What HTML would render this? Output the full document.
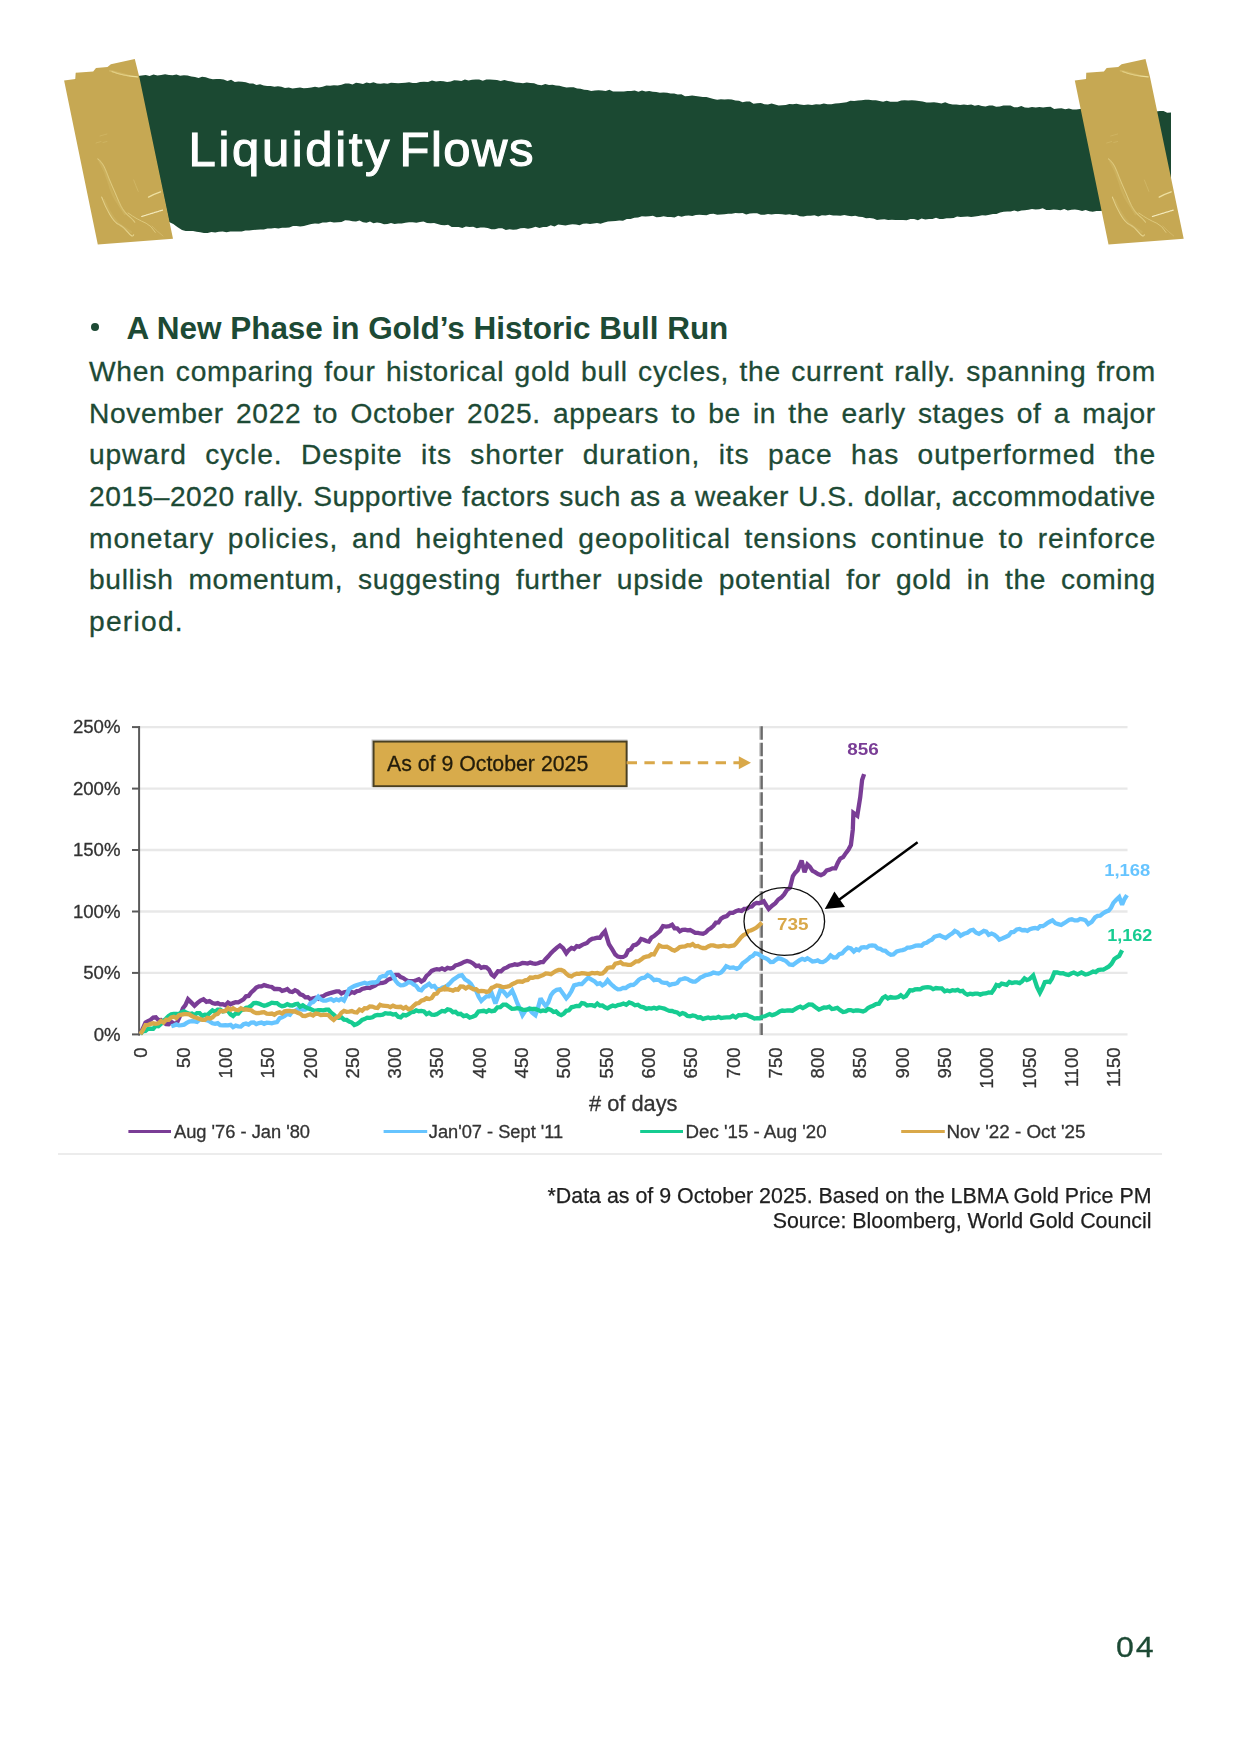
<!DOCTYPE html>
<html><head><meta charset="utf-8"><title>Liquidity Flows</title>
<style>
html,body{margin:0;padding:0;background:#fff;}
body{width:1241px;height:1754px;position:relative;overflow:hidden;font-family:"Liberation Sans",sans-serif;}
#bg{position:absolute;left:0;top:0;}
.title{position:absolute;left:187px;top:119px;font-size:49px;font-weight:normal;-webkit-text-stroke:1.1px #fff;color:#fff;white-space:nowrap;letter-spacing:1.78px;line-height:60px;}
.h{position:absolute;left:126.6px;top:307.8px;font-size:31.5px;font-weight:bold;color:#1d4a35;white-space:nowrap;line-height:40px;letter-spacing:-0.04px;}
.bul{position:absolute;left:90.9px;top:322.9px;width:8.4px;height:8.4px;border-radius:50%;background:#1d4a35;}
.p{position:absolute;left:89px;width:1063px;font-size:28.2px;color:#1d4a35;-webkit-text-stroke:0.3px #1d4a35;line-height:42px;text-align:justify;text-align-last:justify;white-space:nowrap;overflow:visible;}
.p.last{text-align-last:left;}
.fn{position:absolute;right:89.5px;width:700px;text-align:right;font-size:21.4px;color:#1e1e1e;line-height:25px;white-space:nowrap;filter:blur(0.45px);-webkit-text-stroke:0.25px #1e1e1e;}
.pg{position:absolute;left:1115.6px;top:1629.3px;font-size:30px;color:#1d4a35;line-height:36px;letter-spacing:1.8px;transform:scaleX(1.07);transform-origin:0 50%;-webkit-text-stroke:0.3px #1d4a35;}
svg text{font-family:"Liberation Sans",sans-serif;}
.ct text{stroke:#333;stroke-width:0.3px;}
</style></head><body>
<svg id="bg" width="1241" height="1754" viewBox="0 0 1241 1754">
<defs>
<filter id="soft" filterUnits="userSpaceOnUse" x="0" y="680" width="1241" height="500"><feGaussianBlur stdDeviation="0.55"/></filter>
<filter id="soft2" filterUnits="userSpaceOnUse" x="0" y="680" width="1241" height="500"><feGaussianBlur stdDeviation="0.55"/></filter>
</defs>
<!-- banner -->
<polygon points="138.0,76.0 141.9,75.5 145.8,75.1 149.6,75.9 153.5,74.6 157.4,75.4 161.2,75.0 165.1,74.2 169.0,75.0 172.7,75.3 176.4,74.6 180.1,75.7 183.9,75.3 187.6,75.6 191.3,76.6 195.0,77.0 198.6,77.9 202.1,76.8 205.7,77.3 209.3,78.4 212.9,79.3 216.4,78.9 220.0,79.0 223.7,79.4 227.4,81.1 231.1,79.8 234.8,82.0 238.4,81.4 242.1,81.7 245.8,82.2 249.5,83.5 253.1,83.6 256.6,85.0 260.1,84.2 263.7,85.5 267.2,86.0 270.8,85.9 274.4,86.7 277.9,86.2 281.4,86.7 285.0,88.0 288.8,87.4 292.5,88.4 296.2,87.9 300.0,87.6 303.8,88.2 307.5,88.0 311.3,87.5 315.0,86.8 318.8,87.4 322.6,86.8 326.4,85.4 330.1,85.7 333.9,85.2 337.7,85.5 341.5,84.8 345.2,83.5 349.0,83.5 352.5,84.4 356.0,82.7 359.5,83.2 363.0,83.9 366.5,82.6 370.0,83.2 373.5,82.3 377.0,83.5 380.5,83.7 384.0,83.3 387.5,83.8 391.0,82.7 394.5,83.0 398.1,83.2 401.8,82.9 405.4,82.7 409.1,82.3 412.7,83.0 416.4,83.0 420.0,82.0 424.0,81.7 428.0,81.9 432.0,80.5 436.0,81.6 440.0,81.0 443.6,81.2 447.1,81.9 450.7,81.5 454.2,80.3 457.8,80.5 461.4,81.0 464.9,79.6 468.5,80.4 472.1,79.8 475.6,79.6 479.2,79.4 482.8,80.8 486.3,79.4 489.9,79.6 493.4,79.8 497.0,80.0 500.7,81.1 504.4,79.9 508.1,81.0 511.9,81.5 515.6,82.6 519.3,82.8 523.0,83.2 526.7,82.4 530.4,83.0 534.1,83.3 537.9,84.7 541.6,85.2 545.3,83.9 549.0,85.0 552.5,84.8 556.0,85.4 559.5,85.8 563.0,86.8 566.5,87.5 570.1,87.3 573.6,87.2 577.1,88.5 580.6,88.8 584.1,89.7 587.6,90.0 591.2,91.0 594.9,90.6 598.5,90.3 602.1,90.6 605.7,90.9 609.4,89.7 613.0,91.5 616.6,91.4 620.2,91.6 623.9,91.6 627.5,90.9 631.1,91.0 634.7,90.5 638.4,91.7 642.0,90.6 645.6,91.6 649.2,91.1 652.8,91.7 656.3,92.0 659.9,92.7 663.5,92.5 667.1,92.7 670.6,93.4 674.2,93.6 677.8,94.5 681.4,94.2 685.0,96.3 688.5,96.1 692.1,95.5 695.7,96.1 699.3,96.6 702.8,97.0 706.4,96.9 710.0,98.0 713.6,99.1 717.2,99.8 720.9,99.2 724.5,99.6 728.1,99.2 731.8,99.6 735.4,100.5 739.0,100.8 742.6,102.3 746.2,101.4 749.9,101.5 753.5,103.8 757.1,103.3 760.8,103.0 764.4,104.2 768.0,104.5 771.6,103.6 775.1,104.6 778.7,105.5 782.2,105.2 785.8,104.9 789.3,104.0 792.9,104.2 796.4,103.8 800.0,104.5 804.0,105.0 808.0,104.6 812.0,105.1 816.0,104.2 820.0,104.5 823.8,103.6 827.6,104.3 831.4,104.3 835.2,103.6 839.0,103.2 842.8,102.8 846.6,102.2 850.4,100.8 854.2,101.0 858.0,100.6 861.6,100.3 865.2,99.7 868.8,99.7 872.4,100.3 875.9,100.2 879.5,101.1 883.1,101.7 886.7,100.7 890.3,101.7 893.9,101.8 897.5,101.8 901.1,100.6 904.6,100.3 908.2,100.4 911.8,100.3 915.4,100.4 919.0,101.0 922.7,101.6 926.5,102.4 930.2,102.6 934.0,102.2 937.7,102.8 941.4,103.4 945.2,102.3 948.9,103.8 952.6,104.6 956.4,104.6 960.1,104.9 963.9,104.6 967.6,105.0 971.2,104.5 974.8,105.8 978.3,105.0 981.9,106.0 985.5,106.5 989.1,105.5 992.6,105.6 996.2,106.8 999.8,106.4 1003.4,105.5 1007.0,105.5 1010.5,105.6 1014.1,107.3 1017.7,107.2 1021.3,106.0 1024.8,107.4 1028.4,107.8 1032.0,107.0 1035.7,107.5 1039.4,107.0 1043.1,107.6 1046.8,106.9 1050.5,106.8 1054.2,108.9 1057.8,108.4 1061.5,108.3 1065.2,109.3 1068.9,108.4 1072.6,109.4 1076.3,109.5 1080.0,109.0 1083.6,108.5 1087.2,108.7 1090.9,108.9 1094.5,109.0 1098.1,109.8 1101.7,109.2 1105.3,109.7 1109.0,109.2 1112.6,110.9 1116.2,109.9 1119.8,110.2 1123.4,110.6 1127.0,111.4 1130.7,110.5 1134.3,111.6 1137.9,110.9 1141.5,111.1 1145.1,111.2 1148.8,110.3 1152.4,111.3 1156.0,111.5 1159.8,111.1 1163.5,111.0 1167.2,112.8 1171.0,112.5 1171.0,190.0 1171.0,211.0 1167.5,210.6 1163.9,211.4 1160.3,211.4 1156.8,211.3 1153.2,210.5 1149.7,210.1 1146.2,210.0 1142.6,211.1 1139.0,210.6 1135.5,211.5 1132.0,210.5 1128.4,210.3 1124.8,210.2 1121.3,211.3 1117.8,211.2 1114.2,211.5 1110.7,211.4 1107.1,211.0 1103.5,210.8 1100.0,211.0 1096.4,210.9 1092.8,211.7 1089.3,211.2 1085.7,210.0 1082.1,210.9 1078.5,209.9 1074.9,209.4 1071.4,209.7 1067.8,210.5 1064.2,209.1 1060.6,210.2 1057.1,209.8 1053.5,209.6 1049.9,210.0 1046.3,210.0 1042.7,208.3 1039.2,209.2 1035.6,209.5 1032.0,209.0 1028.5,209.7 1024.9,210.2 1021.4,210.5 1017.8,211.5 1014.3,210.5 1010.7,211.4 1007.2,211.4 1003.6,211.7 1000.1,212.6 996.5,213.9 993.0,214.0 989.4,214.7 985.7,215.5 982.1,215.3 978.5,216.1 974.9,216.5 971.2,216.9 967.6,216.6 964.1,216.8 960.6,217.1 957.1,216.5 953.6,218.1 950.1,218.2 946.5,218.2 943.0,218.9 939.5,219.0 936.0,217.7 932.5,219.1 929.0,219.0 925.3,219.5 921.6,218.4 917.9,220.2 914.1,218.9 910.4,219.1 906.7,220.2 903.0,219.9 899.3,219.9 895.6,220.1 891.9,219.8 888.1,220.0 884.4,219.3 880.7,219.5 877.0,220.0 873.4,218.5 869.8,218.0 866.1,218.2 862.5,217.0 858.9,216.8 855.2,215.8 851.6,216.2 848.0,215.7 844.3,215.1 840.5,215.7 836.8,215.6 833.1,215.5 829.4,214.7 825.6,215.4 821.9,215.3 818.2,216.6 814.5,215.2 810.7,215.8 807.0,215.7 803.5,216.5 799.9,216.3 796.4,214.8 792.8,215.0 789.3,214.2 785.7,214.7 782.2,214.2 778.6,213.9 775.1,213.9 771.5,214.5 768.0,214.0 764.4,214.7 760.8,214.7 757.1,213.2 753.5,213.3 749.9,213.5 746.2,214.5 742.6,213.1 739.0,213.3 735.4,213.1 731.8,213.7 728.1,213.8 724.5,214.3 720.9,214.4 717.2,214.7 713.6,213.7 710.0,214.0 706.5,215.2 702.9,214.9 699.4,214.8 695.8,214.9 692.3,216.0 688.7,215.6 685.2,215.8 681.6,216.8 678.1,215.7 674.5,217.6 671.0,217.0 667.4,216.9 663.7,216.3 660.1,216.9 656.5,217.2 652.9,215.7 649.2,216.2 645.6,216.6 641.8,216.2 638.1,217.5 634.3,217.7 630.6,219.0 626.8,219.1 623.0,220.7 619.3,220.4 615.5,221.0 611.8,221.3 608.0,221.6 604.3,222.4 600.5,223.7 597.0,223.0 593.5,223.4 590.0,224.1 586.5,223.4 583.0,223.8 579.5,225.3 576.0,224.6 572.5,224.3 569.0,224.7 565.5,225.6 562.0,225.0 558.2,224.5 554.5,226.5 550.7,225.3 546.9,227.1 543.1,227.1 539.4,228.1 535.6,226.8 531.8,227.9 528.0,228.8 524.2,227.9 520.5,228.3 516.7,229.5 513.1,229.7 509.5,229.3 505.8,229.9 502.2,228.2 498.6,228.2 495.0,229.2 491.3,229.2 487.7,228.1 484.1,227.4 480.4,227.5 476.8,228.3 473.2,226.7 469.6,227.0 465.9,226.5 462.3,228.1 458.7,227.0 455.2,227.1 451.7,227.1 448.1,224.8 444.6,225.2 441.1,225.0 437.6,223.9 434.1,222.9 430.6,223.2 427.0,223.0 423.5,221.5 420.0,222.0 416.4,222.7 412.7,222.2 409.1,222.2 405.4,222.8 401.8,223.5 398.1,223.6 394.5,224.0 391.0,223.1 387.5,224.1 384.0,224.2 380.5,222.9 377.0,222.5 373.5,223.3 370.0,221.6 366.5,222.8 363.0,222.3 359.5,220.6 356.0,221.4 352.5,221.2 349.0,220.5 345.2,220.2 341.5,222.1 337.7,222.3 333.9,222.5 330.1,221.7 326.4,222.4 322.6,222.5 318.8,223.7 315.0,223.4 311.3,223.9 307.5,225.0 303.9,226.0 300.2,226.6 296.6,226.1 293.0,225.9 289.3,227.6 285.7,227.8 282.1,227.7 278.4,228.5 274.8,228.0 271.2,228.4 267.5,228.6 263.9,229.4 260.3,229.4 256.6,229.7 253.0,230.0 249.2,230.5 245.4,230.4 241.7,231.6 237.9,231.5 234.1,231.4 230.3,231.5 226.5,232.3 222.7,231.6 218.9,231.7 215.2,232.6 211.4,232.0 207.6,233.0 203.9,233.1 200.3,232.3 196.6,231.8 193.0,230.9 189.3,231.0 185.7,230.9 182.0,230.0 177.7,227.3 173.3,224.0 169.0,222.0" fill="#1b4932"/>
<!-- tapes -->
<defs>
<clipPath id="tclip"><polygon points="64.1,80.6 75.5,79.1 75.8,72.8 93.2,71.4 96,68 107.5,66.9 110.9,64.3 134.8,59.1 139.4,77.4 173,238.7 97.8,244.4"/></clipPath>
<g id="tape">
<polygon points="64.1,80.6 75.5,79.1 75.8,72.8 93.2,71.4 96,68 107.5,66.9 110.9,64.3 134.8,59.1 139.4,77.4 173,238.7 97.8,244.4" fill="#c6a853"/>
<g clip-path="url(#tclip)" fill="none" stroke-linecap="round">
<path d="M75.8,72.8 L75.5,79.1" stroke="#b89a47" stroke-width="0.8"/>
<path d="M112,71.5 Q123,75.8 137.5,76.9" stroke="#f0e3a0" stroke-width="1.1" opacity=".9"/>
<path d="M110,70.8 Q120,73.5 128,75.5" stroke="#d9c272" stroke-width="2.2" opacity=".5"/>
<path d="M97.8,158.9 Q103,163 106,171 T112,185.7 T118.9,201.7 T128,215.3 T134.8,222.2" stroke="#e2cf86" stroke-width="1.1" opacity=".85"/>
<path d="M99.5,161 Q106,172 109,183 T116,200 T125,214" stroke="#d3ba69" stroke-width="2.4" opacity=".45"/>
<path d="M101.7,197.1 Q105,206 109.7,214.2 T118.9,224.5 T128,232.4 T133.7,234.7" stroke="#eadb96" stroke-width="1.1" opacity=".85"/>
<path d="M104,200 Q108,210 113,217 T123,227 T131,232" stroke="#d3ba69" stroke-width="2.2" opacity=".4"/>
<path d="M128,213 Q133,216.5 137.1,218.8 T146.2,223.3 T155.3,232.4" stroke="#e2cf86" stroke-width="1" opacity=".8"/>
<path d="M148.5,197.1 Q154,194 160.5,191.8" stroke="#f2e6a8" stroke-width="1.3" opacity=".9"/>
<path d="M141.7,216.5 L162.5,210.1" stroke="#f5ecc0" stroke-width="1.2" stroke-dasharray="1.2 0.9" opacity=".95"/>
<path d="M133.7,180 Q136,186 138.2,191.4" stroke="#d8c174" stroke-width="0.9" opacity=".6"/>
<path d="M96,143 l5,-1.5 M100,136 l7,-2 M103,142.5 l4,-1" stroke="#d6bf72" stroke-width="0.8" opacity=".6"/>
<path d="M152,226 Q158,232 163,236" stroke="#dcc67c" stroke-width="0.9" opacity=".6"/>
</g>
</g>
</defs>
<use href="#tape"/>
<use href="#tape" transform="translate(1010.7,0)"/>

<!-- chart -->
<g filter="url(#soft)">
<g stroke="#e8e8e8" stroke-width="2.4"><line x1="140" x2="1127.5" y1="1034.4" y2="1034.4"/><line x1="140" x2="1127.5" y1="972.9" y2="972.9"/><line x1="140" x2="1127.5" y1="911.5" y2="911.5"/><line x1="140" x2="1127.5" y1="850.0" y2="850.0"/><line x1="140" x2="1127.5" y1="788.6" y2="788.6"/><line x1="140" x2="1127.5" y1="727.1" y2="727.1"/></g>
<line x1="58" x2="1162" y1="1154" y2="1154" stroke="#ececec" stroke-width="2"/>
<g stroke="#5a5a5a" stroke-width="2"><line x1="132" x2="140" y1="1034.4" y2="1034.4"/><line x1="132" x2="140" y1="972.9" y2="972.9"/><line x1="132" x2="140" y1="911.5" y2="911.5"/><line x1="132" x2="140" y1="850.0" y2="850.0"/><line x1="132" x2="140" y1="788.6" y2="788.6"/><line x1="132" x2="140" y1="727.1" y2="727.1"/><line x1="139.1" x2="139.1" y1="726.2" y2="1035.4"/></g>
<g class="ct" font-size="18.6" fill="#333"><text x="120.5" y="1040.6" text-anchor="end">0%</text><text x="120.5" y="979.1" text-anchor="end">50%</text><text x="120.5" y="917.7" text-anchor="end">100%</text><text x="120.5" y="856.2" text-anchor="end">150%</text><text x="120.5" y="794.8" text-anchor="end">200%</text><text x="120.5" y="733.3" text-anchor="end">250%</text></g>
<g class="ct" font-size="18.5" fill="#333"><text transform="translate(147.3,1047.5) rotate(-90)" text-anchor="end">0</text><text transform="translate(189.6,1047.5) rotate(-90)" text-anchor="end">50</text><text transform="translate(231.9,1047.5) rotate(-90)" text-anchor="end">100</text><text transform="translate(274.2,1047.5) rotate(-90)" text-anchor="end">150</text><text transform="translate(316.5,1047.5) rotate(-90)" text-anchor="end">200</text><text transform="translate(358.8,1047.5) rotate(-90)" text-anchor="end">250</text><text transform="translate(401.1,1047.5) rotate(-90)" text-anchor="end">300</text><text transform="translate(443.4,1047.5) rotate(-90)" text-anchor="end">350</text><text transform="translate(485.7,1047.5) rotate(-90)" text-anchor="end">400</text><text transform="translate(528.0,1047.5) rotate(-90)" text-anchor="end">450</text><text transform="translate(570.3,1047.5) rotate(-90)" text-anchor="end">500</text><text transform="translate(612.6,1047.5) rotate(-90)" text-anchor="end">550</text><text transform="translate(654.9,1047.5) rotate(-90)" text-anchor="end">600</text><text transform="translate(697.2,1047.5) rotate(-90)" text-anchor="end">650</text><text transform="translate(739.5,1047.5) rotate(-90)" text-anchor="end">700</text><text transform="translate(781.8,1047.5) rotate(-90)" text-anchor="end">750</text><text transform="translate(824.1,1047.5) rotate(-90)" text-anchor="end">800</text><text transform="translate(866.4,1047.5) rotate(-90)" text-anchor="end">850</text><text transform="translate(908.7,1047.5) rotate(-90)" text-anchor="end">900</text><text transform="translate(951.0,1047.5) rotate(-90)" text-anchor="end">950</text><text transform="translate(993.3,1047.5) rotate(-90)" text-anchor="end">1000</text><text transform="translate(1035.6,1047.5) rotate(-90)" text-anchor="end">1050</text><text transform="translate(1077.9,1047.5) rotate(-90)" text-anchor="end">1100</text><text transform="translate(1120.2,1047.5) rotate(-90)" text-anchor="end">1150</text></g>
<text x="589" y="1110.5" font-size="21.8" fill="#333" stroke="#333" stroke-width="0.3">#&#160;of&#160;days</text>
</g>
<g filter="url(#soft)"><line x1="760.3" x2="760.3" y1="726.3" y2="1035" stroke="#a0a0a0" stroke-width="1.6" stroke-dasharray="13.5 3"/><line x1="761.9" x2="761.9" y1="726.3" y2="1035" stroke="#6a6a6a" stroke-width="1.9" stroke-dasharray="13.5 3"/></g>
<g filter="url(#soft2)" fill="none" stroke-linejoin="miter" stroke-miterlimit="2.5" stroke-linecap="butt" stroke-width="4.3">
<path d="M140.3,1034.1 L142.9,1028.3 L145.5,1022.5 L148.0,1021.1 L150.6,1019.8 L153.2,1017.5 L155.8,1017.3 L158.4,1020.1 L160.9,1019.9 L163.5,1022.5 L166.1,1024.1 L168.7,1024.2 L171.3,1021.9 L173.8,1023.4 L176.4,1023.8 L179.6,1016.9 L182.9,1008.3 L185.4,1005.1 L188.0,999.3 L191.2,1002.4 L194.5,1005.7 L197.5,1002.9 L200.5,1000.6 L203.5,999.3 L206.5,1001.8 L209.5,1001.0 L212.5,1003.1 L215.1,1003.8 L217.7,1003.0 L220.2,1004.4 L222.8,1004.2 L225.4,1005.2 L228.0,1002.6 L230.6,1004.3 L233.1,1003.1 L235.7,1002.2 L238.3,1002.3 L240.9,1000.8 L243.5,999.3 L246.0,996.3 L248.6,995.9 L251.2,992.5 L253.8,990.2 L256.3,987.6 L258.9,986.3 L261.5,986.4 L264.1,985.1 L266.7,985.9 L269.2,986.5 L271.8,987.0 L274.4,989.0 L277.0,988.8 L279.6,989.1 L282.1,990.9 L284.7,990.2 L287.3,989.1 L289.9,991.5 L292.4,992.0 L295.0,990.2 L297.6,991.5 L300.2,994.3 L302.8,995.2 L305.3,997.3 L307.9,997.1 L310.5,999.3 L313.1,998.3 L315.7,997.7 L318.2,998.7 L320.8,996.7 L323.4,996.0 L326.0,994.4 L328.5,993.6 L331.1,992.8 L333.7,992.1 L336.3,991.4 L338.9,991.4 L341.4,993.4 L344.0,992.3 L346.6,991.8 L349.2,993.8 L351.8,992.0 L354.3,992.8 L356.9,991.1 L359.5,990.8 L362.1,988.9 L364.6,988.3 L367.2,987.7 L369.8,988.0 L372.4,986.8 L375.0,985.6 L377.5,983.8 L380.1,983.2 L382.7,983.0 L385.3,982.1 L387.9,979.9 L390.4,978.8 L393.0,978.0 L395.6,974.8 L398.2,974.8 L400.7,977.1 L403.3,978.1 L405.9,979.9 L408.5,981.1 L411.1,981.2 L413.6,981.2 L416.2,980.3 L418.8,979.3 L421.4,981.5 L424.0,979.9 L426.5,975.9 L429.1,973.8 L431.7,970.9 L434.3,969.8 L436.8,969.1 L439.4,969.6 L442.0,968.3 L444.8,969.8 L447.5,967.9 L450.3,968.6 L452.9,967.8 L455.5,965.5 L458.0,964.8 L461.1,963.6 L464.1,961.9 L467.1,960.9 L470.1,961.7 L473.1,963.4 L476.1,966.1 L478.7,965.6 L481.3,967.8 L483.8,967.0 L486.4,967.4 L489.0,969.6 L491.6,974.5 L494.1,976.4 L498.0,971.2 L501.0,971.3 L504.0,968.5 L507.0,967.4 L509.6,965.7 L512.2,965.2 L514.8,964.3 L517.4,964.8 L519.9,964.0 L522.5,963.0 L525.1,963.1 L527.7,963.5 L530.2,962.6 L532.8,963.3 L535.4,963.9 L538.0,963.3 L540.6,962.2 L543.1,962.2 L545.7,959.0 L548.3,956.3 L550.9,953.2 L553.9,950.3 L556.9,947.6 L559.9,945.4 L563.1,948.1 L566.3,953.2 L568.9,950.0 L571.5,948.0 L574.1,948.9 L576.7,946.1 L579.2,946.7 L581.8,945.1 L584.4,943.9 L587.0,942.9 L589.6,940.3 L592.1,938.8 L594.7,938.4 L597.3,937.6 L599.9,937.7 L602.4,934.2 L605.0,931.3 L608.9,944.1 L612.1,949.2 L615.3,954.5 L617.9,956.6 L620.5,957.2 L623.1,957.0 L625.7,955.5 L628.2,950.5 L630.8,949.3 L633.4,945.4 L636.0,944.7 L638.5,942.7 L641.1,939.0 L643.7,939.8 L646.3,941.0 L648.9,941.6 L651.4,937.6 L654.0,936.1 L656.6,933.8 L659.8,931.2 L663.0,926.1 L666.1,926.6 L669.1,926.2 L672.1,924.8 L674.6,928.3 L677.2,928.4 L679.8,931.3 L682.4,929.8 L685.0,929.6 L687.5,930.4 L690.1,930.0 L692.7,931.3 L695.3,932.8 L697.9,932.9 L700.4,933.5 L703.0,933.8 L705.6,932.6 L708.2,929.8 L710.7,928.2 L713.3,926.1 L715.9,922.6 L718.5,922.4 L721.1,918.6 L723.6,917.1 L726.8,916.1 L730.0,912.8 L732.9,912.8 L735.8,911.3 L738.7,910.3 L741.6,910.9 L744.2,908.9 L746.8,908.7 L749.3,907.0 L751.8,906.6 L754.2,904.0 L756.6,902.9 L759.0,903.2 L761.4,902.3 L763.8,901.2 L766.3,905.3 L768.7,909.0 L772.1,905.7 L775.4,903.2 L778.3,899.5 L781.2,897.6 L784.1,894.5 L787.1,889.7 L790.0,887.7 L792.9,876.1 L795.3,872.6 L797.7,870.3 L801.6,860.6 L804.5,872.2 L807.4,864.5 L809.9,866.9 L812.5,870.9 L815.1,872.2 L818.0,874.1 L820.9,875.1 L823.8,873.8 L826.7,870.3 L829.6,869.6 L832.5,868.3 L835.4,868.3 L837.8,862.8 L840.2,858.7 L843.1,857.1 L846.0,852.9 L848.5,849.6 L850.9,845.1 L852.8,829.7 L853.4,812.8 L857.3,815.7 L860.2,797.4 L862.1,780.0 L864.1,774.1" stroke="#7a3e96"/>
<path d="M171.3,1026.3 L173.8,1025.5 L176.4,1024.4 L179.0,1025.4 L181.6,1025.1 L184.1,1024.6 L186.7,1022.9 L189.3,1021.5 L191.9,1021.2 L194.5,1021.4 L197.0,1021.9 L199.6,1019.7 L202.2,1018.9 L204.8,1019.9 L207.4,1020.4 L209.9,1021.6 L212.5,1023.3 L215.1,1023.8 L217.7,1023.2 L220.2,1025.2 L222.8,1025.4 L225.4,1025.1 L228.0,1025.3 L230.6,1024.8 L233.1,1027.1 L235.7,1025.6 L238.3,1026.3 L240.9,1026.6 L243.5,1024.3 L246.0,1023.6 L248.6,1024.5 L251.2,1022.6 L253.8,1022.5 L256.3,1024.1 L258.9,1023.1 L261.5,1022.6 L264.1,1023.8 L266.7,1022.7 L269.2,1022.9 L271.8,1023.3 L274.4,1022.5 L277.0,1022.1 L279.6,1018.3 L282.1,1017.3 L284.7,1016.0 L287.3,1013.9 L289.9,1014.8 L292.4,1011.2 L295.0,1010.9 L297.6,1009.3 L300.2,1009.0 L302.8,1009.6 L305.3,1009.6 L307.9,1007.5 L310.5,1003.1 L313.1,1002.1 L315.7,999.5 L318.2,996.7 L320.8,999.4 L323.4,1000.5 L326.0,1000.6 L328.5,999.8 L331.1,999.0 L333.7,1000.8 L336.3,999.3 L338.9,1000.4 L341.4,998.8 L344.0,1000.6 L346.6,995.2 L349.2,989.0 L351.8,987.3 L354.3,986.0 L356.9,985.1 L359.5,984.3 L362.1,983.5 L364.6,982.7 L367.2,983.8 L369.8,982.8 L372.4,982.5 L375.0,982.5 L377.5,981.6 L380.1,977.2 L382.7,976.1 L385.3,976.1 L387.9,972.7 L390.4,972.2 L393.0,975.7 L395.6,980.8 L398.2,983.8 L400.7,985.3 L403.3,985.1 L405.9,984.0 L408.5,982.1 L411.1,982.5 L413.6,984.4 L416.2,986.0 L418.8,989.5 L421.4,990.2 L424.0,987.2 L426.5,985.6 L429.1,983.8 L431.7,986.6 L434.3,985.9 L436.8,989.0 L440.0,989.3 L442.6,987.4 L445.2,986.9 L447.7,985.2 L450.3,982.8 L453.2,979.6 L456.1,977.7 L459.0,975.8 L461.9,975.1 L465.1,979.5 L468.4,981.5 L470.9,983.9 L473.5,988.2 L476.1,990.6 L478.7,996.8 L481.3,1000.9 L483.8,998.5 L486.4,996.4 L489.0,996.4 L491.6,993.1 L495.4,1003.5 L498.0,996.7 L500.6,989.3 L503.8,991.8 L507.0,995.7 L509.6,993.7 L512.2,990.6 L514.8,996.5 L517.4,1003.5 L519.9,1008.6 L522.5,1015.1 L525.7,1010.4 L529.0,1008.6 L532.2,1012.6 L535.4,1015.1 L538.0,1007.8 L540.6,998.3 L543.1,1002.5 L545.7,1006.0 L548.3,1002.5 L550.9,995.2 L553.5,991.9 L556.7,989.8 L559.9,989.3 L563.1,993.7 L566.3,998.3 L568.9,995.3 L571.5,991.0 L574.1,985.4 L576.7,984.7 L579.2,983.9 L581.8,984.1 L585.0,980.7 L588.3,977.7 L591.5,979.6 L594.7,981.5 L597.3,984.0 L599.9,983.2 L602.4,985.4 L605.0,983.7 L607.6,980.2 L610.2,983.2 L612.8,985.7 L615.3,987.8 L617.9,989.3 L620.5,989.1 L623.1,987.9 L625.7,988.0 L628.2,986.2 L630.8,985.0 L633.4,984.9 L636.0,982.8 L638.9,979.7 L641.8,978.1 L644.7,977.7 L647.6,975.1 L650.8,977.0 L654.0,980.2 L656.6,979.7 L659.2,980.2 L661.8,982.3 L664.3,982.8 L666.9,982.8 L669.5,985.0 L672.1,984.1 L674.6,983.9 L677.2,982.9 L679.8,979.6 L682.4,979.0 L685.0,978.3 L687.5,978.9 L690.1,980.5 L692.7,981.6 L695.3,981.5 L697.9,979.8 L700.4,977.6 L703.0,976.5 L705.6,975.1 L708.2,974.6 L710.7,973.9 L713.3,972.5 L715.9,973.2 L718.5,973.5 L721.1,972.5 L723.6,969.8 L726.2,966.1 L730.0,967.9 L733.4,967.4 L736.8,968.9 L739.7,967.3 L742.6,963.2 L745.5,961.2 L747.9,959.4 L750.3,957.0 L752.7,956.0 L755.1,953.4 L757.7,953.9 L760.3,955.3 L762.9,957.3 L765.5,958.2 L768.0,959.6 L770.6,962.1 L773.2,961.9 L775.8,959.8 L778.3,958.3 L780.9,958.8 L783.5,959.9 L786.1,961.2 L789.5,964.5 L792.9,965.0 L796.2,962.6 L799.6,960.2 L802.2,958.8 L804.8,959.8 L807.4,958.3 L809.9,959.7 L812.5,961.6 L815.1,961.2 L817.7,960.4 L820.2,961.8 L822.8,962.1 L825.4,960.8 L828.0,958.6 L830.6,955.4 L833.5,957.5 L836.4,957.3 L839.3,954.1 L842.2,953.4 L845.1,950.0 L848.0,947.6 L850.9,948.5 L853.8,951.5 L856.3,949.3 L858.9,950.3 L861.5,947.6 L864.1,947.2 L866.7,947.6 L869.2,945.7 L872.1,945.3 L875.0,945.7 L877.6,948.3 L880.2,948.8 L882.8,950.5 L885.4,950.8 L888.1,953.3 L890.8,954.7 L893.4,954.4 L896.8,951.4 L900.2,950.5 L902.6,950.1 L905.0,949.4 L907.4,947.6 L909.9,947.6 L912.8,946.8 L915.7,945.7 L918.6,945.4 L921.5,945.7 L924.0,943.4 L926.6,942.8 L929.2,940.9 L931.8,939.7 L934.4,936.8 L936.9,936.0 L939.8,935.3 L942.7,936.8 L945.6,938.0 L950.0,934.8 L952.4,933.3 L954.8,930.9 L957.7,932.4 L960.6,935.7 L964.0,933.8 L967.4,932.8 L970.3,930.5 L973.2,929.9 L976.1,932.7 L979.0,933.8 L981.4,932.5 L983.8,930.9 L986.3,931.6 L988.7,934.8 L991.6,933.6 L994.5,934.8 L996.9,936.9 L999.3,939.6 L1002.7,938.3 L1006.1,936.7 L1008.7,935.5 L1011.2,932.3 L1013.8,931.9 L1016.7,929.5 L1019.6,929.0 L1022.2,930.2 L1024.8,930.0 L1027.4,930.9 L1029.9,929.3 L1032.5,928.4 L1035.1,928.0 L1037.7,928.6 L1040.2,926.2 L1042.8,926.1 L1045.2,924.8 L1047.7,922.8 L1050.1,921.5 L1052.5,920.3 L1055.4,923.2 L1058.3,924.1 L1061.2,925.0 L1064.1,923.2 L1066.7,921.5 L1069.3,919.7 L1071.8,919.3 L1074.7,920.4 L1077.6,920.3 L1080.1,918.9 L1082.5,919.3 L1085.4,920.3 L1088.3,924.1 L1091.7,921.9 L1095.0,917.4 L1097.6,915.9 L1100.2,915.7 L1102.8,913.5 L1105.7,911.8 L1108.6,910.6 L1111.0,907.8 L1113.4,902.9 L1116.3,899.8 L1119.2,897.1 L1122.1,904.8 L1124.5,899.0 L1127.0,895.1" stroke="#66c4ff"/>
<path d="M140.3,1034.1 L142.9,1031.0 L145.5,1030.8 L148.0,1028.9 L150.6,1028.7 L153.2,1028.8 L155.8,1025.8 L158.4,1026.3 L160.9,1024.1 L163.5,1020.8 L166.1,1018.6 L168.7,1016.0 L171.3,1014.3 L173.8,1013.9 L176.4,1013.8 L179.0,1014.1 L181.6,1012.2 L184.1,1011.4 L186.7,1012.8 L189.3,1014.0 L191.9,1013.5 L194.5,1015.0 L197.0,1013.1 L199.6,1013.2 L202.2,1015.7 L204.8,1014.7 L207.4,1015.0 L209.9,1012.6 L212.5,1010.4 L215.1,1011.8 L217.7,1009.6 L220.2,1009.6 L222.8,1011.4 L225.4,1010.9 L228.0,1010.9 L230.6,1014.4 L233.1,1016.0 L235.7,1013.5 L238.3,1013.6 L240.9,1010.4 L243.5,1009.6 L246.0,1007.7 L248.6,1007.3 L251.2,1005.7 L253.8,1003.1 L256.3,1002.9 L258.9,1003.6 L261.5,1004.8 L264.1,1005.7 L266.7,1005.1 L269.2,1004.1 L271.8,1002.7 L274.4,1003.1 L277.0,1003.1 L279.6,1005.1 L282.1,1006.2 L284.7,1005.7 L287.3,1004.1 L289.9,1005.3 L292.4,1005.5 L295.0,1004.4 L297.6,1003.8 L300.2,1006.7 L302.8,1005.3 L305.3,1007.0 L307.9,1008.3 L310.5,1009.1 L313.1,1010.3 L315.7,1010.9 L318.2,1010.1 L320.8,1010.1 L323.4,1010.3 L326.0,1009.6 L328.5,1009.6 L331.1,1012.6 L333.7,1014.6 L336.3,1017.3 L338.9,1017.8 L341.4,1017.3 L344.0,1019.6 L346.6,1019.9 L349.2,1021.6 L351.8,1022.6 L354.3,1025.1 L356.9,1024.1 L359.5,1022.4 L362.1,1019.9 L364.6,1019.1 L367.2,1017.7 L369.8,1017.9 L372.4,1017.3 L375.0,1015.6 L377.5,1015.0 L380.1,1015.2 L382.7,1014.7 L385.3,1013.2 L387.9,1013.7 L390.4,1013.5 L393.0,1014.5 L395.6,1014.1 L398.2,1016.7 L400.7,1017.3 L403.3,1014.9 L405.9,1015.4 L408.5,1014.2 L411.1,1012.2 L413.6,1011.9 L416.2,1010.3 L418.8,1011.2 L421.4,1010.9 L424.0,1011.5 L426.5,1014.1 L429.1,1012.8 L431.7,1014.7 L434.3,1014.8 L436.8,1014.2 L439.4,1012.5 L442.0,1010.9 L444.8,1011.4 L447.5,1009.4 L450.3,1009.9 L452.9,1012.2 L455.5,1011.8 L458.0,1014.1 L460.6,1013.8 L463.6,1016.2 L466.6,1015.4 L469.7,1017.6 L472.6,1016.8 L475.5,1015.6 L478.4,1011.6 L481.3,1011.2 L483.8,1010.8 L486.4,1011.9 L489.0,1010.2 L491.6,1011.2 L494.5,1010.7 L497.4,1007.3 L500.3,1007.2 L503.2,1004.7 L506.1,1004.7 L509.0,1006.7 L511.9,1008.8 L514.8,1008.6 L517.4,1008.1 L519.9,1008.6 L522.5,1009.6 L525.1,1009.9 L527.7,1009.4 L530.2,1008.6 L532.8,1009.0 L535.4,1009.0 L538.0,1009.9 L540.6,1011.1 L543.1,1010.4 L545.7,1011.0 L548.3,1009.0 L550.9,1009.9 L553.5,1012.0 L556.0,1011.4 L558.6,1013.9 L561.2,1015.1 L563.8,1013.5 L566.3,1010.8 L568.9,1010.3 L571.5,1007.3 L574.1,1006.7 L576.7,1006.0 L579.2,1006.1 L581.8,1003.1 L584.4,1003.5 L587.0,1005.5 L589.6,1005.1 L592.1,1005.1 L594.7,1006.0 L597.3,1003.5 L599.9,1005.6 L602.4,1005.4 L605.0,1007.3 L607.6,1008.3 L610.2,1006.7 L612.8,1005.6 L615.3,1006.3 L617.9,1005.0 L620.5,1004.7 L623.4,1003.5 L626.3,1004.8 L629.2,1002.5 L632.1,1003.5 L635.0,1005.3 L637.9,1004.7 L640.8,1006.7 L643.7,1007.3 L646.3,1008.9 L648.9,1008.1 L651.4,1008.6 L654.0,1007.8 L656.6,1008.6 L659.2,1007.5 L661.8,1008.0 L664.3,1008.6 L666.9,1009.9 L669.5,1010.9 L672.1,1011.0 L674.6,1011.9 L677.2,1012.5 L679.8,1014.4 L682.4,1013.0 L685.0,1014.0 L687.5,1016.0 L690.1,1016.3 L692.7,1015.5 L695.3,1016.0 L697.9,1017.5 L700.4,1017.3 L703.0,1018.9 L705.6,1018.2 L708.2,1017.5 L710.7,1018.2 L713.3,1017.6 L715.9,1017.9 L718.5,1016.8 L721.1,1018.0 L723.6,1017.6 L726.8,1017.4 L730.0,1017.3 L732.9,1015.8 L735.8,1017.5 L738.7,1015.1 L741.6,1015.3 L744.2,1014.7 L746.8,1014.8 L749.3,1016.3 L751.9,1017.3 L754.5,1018.6 L757.1,1018.2 L759.7,1018.4 L762.2,1016.7 L764.8,1016.3 L767.2,1015.1 L769.6,1014.0 L772.1,1015.2 L774.5,1014.4 L777.1,1013.2 L779.6,1011.4 L782.2,1010.5 L784.8,1010.9 L787.4,1010.3 L790.0,1010.5 L792.5,1010.7 L795.1,1009.2 L797.7,1007.6 L800.3,1006.6 L802.8,1008.1 L805.4,1006.6 L808.8,1004.4 L812.2,1004.7 L815.6,1007.2 L819.0,1009.5 L821.5,1008.6 L824.1,1007.5 L826.7,1007.6 L829.3,1006.7 L831.9,1009.0 L834.4,1008.6 L837.3,1007.9 L840.2,1010.2 L843.1,1012.0 L846.0,1011.5 L848.5,1010.2 L850.9,1010.1 L853.3,1011.0 L855.7,1010.5 L858.1,1010.5 L860.5,1010.9 L863.0,1011.4 L865.4,1010.5 L868.0,1008.0 L870.5,1006.7 L873.1,1005.7 L876.0,1004.1 L878.9,1003.7 L882.8,997.9 L885.4,996.3 L887.9,998.4 L890.5,997.0 L893.1,997.7 L895.7,997.6 L898.3,997.0 L900.8,995.2 L903.4,997.3 L906.0,996.0 L909.9,990.2 L912.4,990.5 L915.0,989.4 L917.6,989.2 L920.2,989.3 L922.7,987.8 L925.3,987.3 L927.9,987.2 L930.5,987.5 L933.1,989.2 L936.0,988.0 L938.9,988.3 L941.8,988.4 L944.7,991.2 L947.2,990.4 L949.8,991.2 L952.4,990.2 L955.1,990.6 L957.7,989.9 L960.2,991.3 L962.6,990.8 L965.0,993.4 L967.4,994.7 L970.0,993.7 L972.6,994.2 L975.1,993.7 L977.7,993.6 L980.3,994.6 L982.9,993.7 L985.8,993.5 L988.7,992.4 L991.6,992.8 L994.0,989.3 L996.4,985.0 L999.0,986.0 L1001.6,983.6 L1004.1,984.1 L1006.7,984.8 L1009.3,982.1 L1011.9,983.1 L1014.5,982.4 L1017.0,982.4 L1019.6,983.1 L1022.0,981.4 L1024.5,978.3 L1026.9,980.0 L1029.3,979.2 L1033.2,975.4 L1037.0,987.0 L1039.9,992.8 L1042.3,988.2 L1044.8,982.1 L1047.2,981.7 L1049.6,982.1 L1052.0,978.4 L1054.4,972.5 L1057.3,972.5 L1060.2,973.4 L1063.1,973.2 L1066.0,974.4 L1068.6,974.9 L1071.2,973.5 L1073.8,972.5 L1077.6,974.4 L1081.5,972.5 L1085.4,974.4 L1088.0,974.0 L1090.5,972.9 L1093.1,971.5 L1095.7,972.2 L1098.3,970.1 L1100.8,969.6 L1103.4,969.6 L1106.0,968.2 L1108.6,966.7 L1111.5,963.8 L1114.4,958.9 L1116.8,957.3 L1119.2,956.0 L1122.1,950.2" stroke="#14cc91"/>
<path d="M140.3,1034.1 L142.9,1030.2 L145.5,1025.1 L148.0,1024.9 L150.6,1023.9 L153.2,1023.3 L155.8,1023.8 L158.4,1023.3 L160.9,1021.0 L163.5,1022.6 L166.1,1019.7 L168.7,1019.9 L171.3,1017.5 L173.8,1016.7 L176.4,1018.0 L179.0,1015.3 L181.6,1014.7 L184.1,1014.1 L186.7,1014.1 L189.3,1014.4 L191.9,1016.0 L194.5,1017.3 L197.0,1018.0 L199.6,1018.9 L202.2,1019.8 L204.8,1019.9 L207.4,1017.8 L209.9,1018.4 L212.5,1017.3 L215.1,1014.8 L217.7,1013.9 L220.2,1010.9 L222.8,1011.3 L225.4,1010.9 L228.0,1008.1 L230.6,1009.8 L233.1,1008.3 L235.7,1009.8 L238.3,1010.2 L240.9,1008.2 L243.5,1009.6 L246.0,1009.4 L248.6,1009.8 L251.2,1010.2 L253.8,1012.2 L256.3,1013.1 L258.9,1013.0 L261.5,1012.5 L264.1,1012.2 L266.7,1013.7 L269.2,1013.8 L271.8,1013.5 L274.4,1014.7 L277.0,1013.0 L279.6,1012.3 L282.1,1013.5 L284.7,1011.3 L287.3,1011.0 L289.9,1010.9 L292.4,1011.5 L295.0,1011.3 L297.6,1012.8 L300.2,1013.7 L302.8,1015.8 L305.3,1016.0 L307.9,1015.0 L310.5,1014.2 L313.1,1015.4 L315.7,1013.5 L318.2,1013.8 L320.8,1015.1 L323.4,1014.8 L326.0,1014.7 L328.5,1015.2 L331.1,1017.9 L333.7,1019.9 L336.3,1017.5 L338.9,1016.2 L341.4,1012.7 L344.0,1010.9 L346.6,1011.8 L349.2,1011.6 L351.8,1011.1 L354.3,1012.2 L356.9,1012.4 L359.5,1009.5 L362.1,1010.7 L364.6,1008.2 L367.2,1008.3 L369.8,1006.5 L372.4,1006.6 L375.0,1007.7 L377.5,1007.9 L380.1,1004.8 L382.7,1005.7 L385.3,1005.9 L387.9,1006.1 L390.4,1007.2 L393.0,1005.7 L395.6,1006.8 L398.2,1007.0 L400.7,1006.8 L403.3,1008.5 L405.9,1007.1 L408.5,1009.3 L411.1,1008.3 L413.6,1005.8 L416.2,1003.6 L418.8,1003.1 L421.4,1000.6 L424.0,999.9 L426.5,998.2 L429.1,999.0 L431.7,998.0 L434.3,994.2 L436.8,993.6 L439.4,990.2 L442.0,989.5 L444.6,987.7 L445.2,989.4 L447.7,989.1 L450.3,989.8 L452.9,990.6 L455.5,989.3 L458.0,989.7 L460.6,986.5 L463.2,986.7 L465.8,988.4 L468.4,986.7 L470.9,987.8 L473.5,989.3 L476.1,989.1 L478.7,991.4 L481.3,990.8 L483.8,991.0 L486.4,991.9 L489.0,991.3 L491.6,987.9 L494.1,986.9 L496.7,985.4 L499.3,985.8 L501.9,986.8 L504.5,987.1 L507.0,986.7 L509.6,986.1 L512.2,984.2 L514.8,983.1 L517.4,981.6 L519.9,981.5 L522.5,981.7 L525.1,980.4 L527.7,979.9 L530.2,977.5 L532.8,977.7 L535.4,976.9 L538.0,977.1 L540.6,976.0 L543.1,975.1 L545.7,973.4 L548.3,973.7 L550.9,974.2 L553.5,972.5 L556.0,970.9 L558.6,969.9 L561.2,969.9 L563.8,971.0 L566.3,973.7 L568.9,975.7 L571.5,976.4 L574.1,974.6 L576.7,973.7 L579.2,973.8 L581.8,973.1 L584.4,973.3 L587.0,973.9 L589.6,973.8 L592.1,972.9 L594.7,973.3 L597.3,972.9 L599.9,973.8 L602.4,973.5 L605.0,971.2 L607.6,967.9 L610.2,967.4 L612.8,967.4 L615.3,963.7 L617.9,963.2 L620.5,962.2 L623.1,964.2 L625.7,964.3 L628.2,964.8 L630.8,964.8 L633.4,963.3 L636.0,961.3 L638.5,961.3 L641.1,959.6 L643.7,957.5 L646.3,956.7 L648.9,956.2 L651.4,954.2 L654.0,954.5 L656.6,949.7 L659.2,945.4 L661.8,946.7 L664.3,946.8 L666.9,946.7 L669.5,948.0 L672.1,949.7 L674.6,950.6 L677.2,949.2 L679.8,947.0 L682.4,946.7 L685.0,946.4 L687.5,945.2 L690.1,945.5 L692.7,944.1 L695.3,946.3 L697.9,945.9 L700.4,947.3 L703.0,948.0 L705.6,948.1 L708.2,946.5 L710.7,945.3 L713.3,945.4 L715.9,946.1 L718.5,946.5 L721.1,946.2 L723.6,945.4 L726.2,946.0 L728.8,946.4 L731.4,945.9 L734.0,945.4 L735.8,943.8 L738.4,940.7 L741.0,937.4 L743.5,935.1 L746.0,934.0 L748.4,931.0 L750.8,930.5 L753.2,929.3 L756.1,927.8 L759.0,925.4 L761.9,922.5" stroke="#d9a84a"/>
</g>
<g filter="url(#soft)">
<!-- label box -->
<rect x="372.2" y="740.2" width="254.6" height="46" fill="none" stroke="#c4c4c4" stroke-width="1.4"/><rect x="373.6" y="741.6" width="253" height="44.6" fill="#d8ab4c" stroke="#4a3f22" stroke-width="1.9"/>
<text x="387" y="770.7" font-size="21.3" fill="#241d08" stroke="#241d08" stroke-width="0.3">As of 9 October 2025</text>
<line x1="626.6" x2="741" y1="762.8" y2="762.8" stroke="#d9a84a" stroke-width="3" stroke-dasharray="10.4 7.4"/>
<polygon points="738.8,756.2 751,762.8 738.8,769.2" fill="#d9a84a"/>
<!-- circle + arrow -->
<ellipse cx="784.3" cy="921.5" rx="40.3" ry="33.8" fill="none" stroke="#111" stroke-width="1.3"/>
<line x1="917.6" y1="842.2" x2="836" y2="902" stroke="#000" stroke-width="2.5"/>
<polygon points="824.8,909 834.4,891.6 845,907" fill="#000"/>
<!-- labels -->
<text x="847.3" y="755" font-size="17" font-weight="bold" fill="#7a3e96" textLength="31.5" lengthAdjust="spacingAndGlyphs">856</text>
<text x="777" y="930.2" font-size="17" font-weight="bold" fill="#d9a84a" textLength="31.5" lengthAdjust="spacingAndGlyphs">735</text>
<text x="1104.2" y="876" font-size="17" font-weight="bold" fill="#66c4ff" textLength="46" lengthAdjust="spacingAndGlyphs">1,168</text>
<text x="1107.2" y="940.6" font-size="17" font-weight="bold" fill="#14cc91" textLength="45" lengthAdjust="spacingAndGlyphs">1,162</text>
<!-- legend -->
<g stroke-width="2.9">
<line x1="128.4" x2="171" y1="1131.5" y2="1131.5" stroke="#7a3e96"/>
<line x1="383.6" x2="427.2" y1="1131.5" y2="1131.5" stroke="#66c4ff"/>
<line x1="640.2" x2="683" y1="1131.5" y2="1131.5" stroke="#14cc91"/>
<line x1="901.2" x2="944.8" y1="1131.5" y2="1131.5" stroke="#d9a84a"/>
</g>
<g class="ct" font-size="18" fill="#333">
<text x="174" y="1137.6" textLength="136" lengthAdjust="spacingAndGlyphs">Aug '76 - Jan '80</text>
<text x="428.8" y="1137.6" textLength="134.4" lengthAdjust="spacingAndGlyphs">Jan'07 - Sept '11</text>
<text x="685.6" y="1137.6" textLength="141" lengthAdjust="spacingAndGlyphs">Dec '15 - Aug '20</text>
<text x="946.4" y="1137.6" textLength="139.2" lengthAdjust="spacingAndGlyphs">Nov '22 - Oct '25</text>
</g>
</g>
</svg>

<div class="title" style="left:188.6px;letter-spacing:2.65px">Liquidity</div><div class="title" style="left:399.5px;letter-spacing:1.5px">Flows</div>
<div class="bul"></div><div class="h">A New Phase in Gold&rsquo;s Historic Bull Run</div>
<div class="p" style="top:350.2px;letter-spacing:0.700px;width:1066.90px">When comparing four historical gold bull cycles, the current rally. spanning from</div>
<div class="p" style="top:391.8px;letter-spacing:0.600px;width:1066.80px">November 2022 to October 2025. appears to be in the early stages of a major</div>
<div class="p" style="top:433.4px;letter-spacing:0.880px;width:1067.08px">upward cycle. Despite its shorter duration, its pace has outperformed the</div>
<div class="p" style="top:475.0px;letter-spacing:0.500px;width:1066.70px">2015&ndash;2020 rally. Supportive factors such as a weaker U.S. dollar, accommodative</div>
<div class="p" style="top:516.6px;letter-spacing:0.970px;width:1067.17px">monetary policies, and heightened geopolitical tensions continue to reinforce</div>
<div class="p" style="top:558.2px;letter-spacing:0.656px;width:1066.86px">bullish momentum, suggesting further upside potential for gold in the coming</div>
<div class="p last" style="top:599.8px;letter-spacing:1.250px;width:1066.75px">period.</div>
<div class="fn" style="top:1184.1px">*Data as of 9 October 2025. Based on the LBMA Gold Price PM</div>
<div class="fn" style="top:1209.2px">Source: Bloomberg, World Gold Council</div>
<div class="pg">04</div>
</body></html>
